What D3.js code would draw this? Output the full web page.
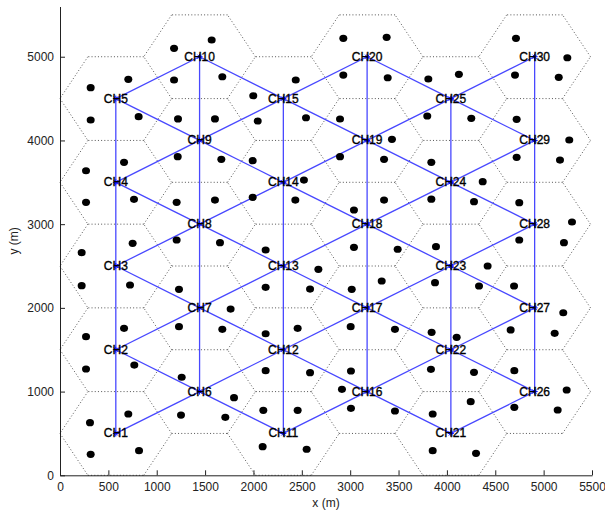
<!DOCTYPE html>
<html>
<head>
<meta charset="utf-8">
<script src="https://cdn.jsdelivr.net/npm/d3@7"></script>
<style>
  html, body { margin: 0; padding: 0; background: #fff; }
  svg { display: block; font-family: "Liberation Sans", Arial, Helvetica, sans-serif; }
</style>
</head>
<body>
<svg id="chart" width="605" height="514"></svg>
<script>
// Cluster heads (CH1..CH30), one per hexagonal cell
const chX = [
  577, 577, 577, 577, 577,
  1443, 1443, 1443, 1443, 1443,
  2309, 2309, 2309, 2309, 2309,
  3175, 3175, 3175, 3175, 3175,
  4041, 4041, 4041, 4041, 4041,
  4907, 4907, 4907, 4907, 4907
];
const chY = [
  500, 1500, 2500, 3500, 4500,
  1000, 2000, 3000, 4000, 5000,
  500, 1500, 2500, 3500, 4500,
  1000, 2000, 3000, 4000, 5000,
  500, 1500, 2500, 3500, 4500,
  1000, 2000, 3000, 4000, 5000
];
const chNames = chX.map((_, i) => "CH" + (i + 1));

// Sensor nodes
const nodeX = [
  1568, 1179, 317, 706, 1179, 1678, 2437, 1998, 317, 813,
  1220, 1602, 2044, 662, 269, 1217, 1668, 1992, 269, 765,
  1206, 1602, 1992, 2433, 751, 1206, 1654, 2126, 224, 224,
  724, 1230, 2126, 1764, 662, 1230, 1678, 2126, 2457, 269,
  269, 768, 1258, 2126, 1799, 706, 1251, 1709, 2102, 2457,
  310, 317, 817, 2095, 2929, 3377, 4714, 5245, 2929, 3388,
  3808, 4124, 4704, 5156, 2543, 2895, 3797, 4252, 4721, 3432,
  5265, 2895, 3350, 3839, 4721, 5169, 2522, 4370, 3350, 3839,
  4280, 4748, 3039, 5293, 3039, 3491, 3887, 4748, 5210, 2671,
  4421, 3326, 3877, 4332, 4694, 2585, 3016, 5203, 3005, 3463,
  3842, 4101, 4659, 5114, 2585, 3008, 3835, 4280, 4697, 2915,
  5238, 4246, 4697, 5145, 3008, 3463, 3853, 2550, 3853, 4301
];
const nodeY = [
  5200, 5100, 4630, 4730, 4722, 4761, 4722, 4534, 4244, 4284,
  4257, 4257, 4232, 3739, 3638, 3806, 3774, 3758, 3261, 3297,
  3261, 3288, 3321, 3288, 2771, 2811, 2779, 2691, 2659, 2265,
  2273, 2222, 2246, 1986, 1756, 1775, 1744, 1691, 1756, 1656,
  1270, 1317, 1171, 1250, 927, 732, 720, 693, 776, 776,
  629, 251, 294, 342, 5220, 5232, 5220, 4988, 4781, 4749,
  4734, 4790, 4781, 4754, 4271, 4256, 4292, 4264, 4252, 4013,
  4005, 3806, 3774, 3739, 3798, 3766, 3527, 3507, 3288, 3299,
  3268, 3257, 3169, 3026, 2723, 2700, 2731, 2811, 2779, 2460,
  2500, 2321, 2301, 2261, 2261, 2225, 2222, 1942, 1775, 1744,
  1708, 1648, 1736, 1696, 1226, 1246, 1266, 1230, 1250, 1027,
  1019, 879, 812, 780, 800, 768, 732, 311, 294, 263
];

// Cell geometry and CH communication range
const hexSide = 577.35;
const commRange = 1000;

const xTicks = [0, 500, 1000, 1500, 2000, 2500, 3000, 3500, 4000, 4500, 5000, 5500];
const yTicks = [0, 1000, 2000, 3000, 4000, 5000];

const svg = d3.select("#chart");
const x = d3.scaleLinear().domain([0, 5500]).range([60, 592]);
const y = d3.scaleLinear().domain([0, 5600]).range([475.3, 6.5]);

// Hexagon cell boundaries (shared edges drawn once)
const hexEdges = new Map();
chX.forEach((cx, i) => {
  const cy = chY[i];
  const verts = d3.range(6).map(k => {
    const a = Math.PI / 3 * k;
    return [cx + hexSide * Math.cos(a), cy + hexSide * Math.sin(a)];
  });
  verts.forEach((v, k) => {
    const w = verts[(k + 1) % 6];
    const key = [v, w].map(p => Math.round(p[0]) + "," + Math.round(p[1])).sort().join("|");
    if (!hexEdges.has(key)) hexEdges.set(key, [v, w]);
  });
});
svg.append("g")
  .selectAll("line")
  .data([...hexEdges.values()])
  .join("line")
  .attr("x1", d => x(d[0][0])).attr("y1", d => y(d[0][1]))
  .attr("x2", d => x(d[1][0])).attr("y2", d => y(d[1][1]))
  .attr("stroke", "#555")
  .attr("stroke-width", 1)
  .attr("stroke-dasharray", "1,2.2");

// Links between cluster heads within communication range
const links = [];
for (let i = 0; i < chX.length; i++) {
  for (let j = i + 1; j < chX.length; j++) {
    const d = Math.hypot(chX[i] - chX[j], chY[i] - chY[j]);
    if (d <= commRange * 1.01) links.push([i, j]);
  }
}
svg.append("g")
  .selectAll("line")
  .data(links)
  .join("line")
  .attr("x1", d => x(chX[d[0]])).attr("y1", d => y(chY[d[0]]))
  .attr("x2", d => x(chX[d[1]])).attr("y2", d => y(chY[d[1]]))
  .attr("stroke", "#4848ff")
  .attr("stroke-width", 1.3);

// Sensor nodes
svg.append("g")
  .selectAll("ellipse")
  .data(nodeX.map((v, i) => [v, nodeY[i]]))
  .join("ellipse")
  .attr("cx", d => x(d[0]))
  .attr("cy", d => y(d[1]))
  .attr("rx", 4)
  .attr("ry", 3.6)
  .attr("fill", "#000");

// CH markers
svg.append("g")
  .selectAll("path")
  .data(chX.map((v, i) => [v, chY[i]]))
  .join("path")
  .attr("d", d => {
    const px = x(d[0]), py = y(d[1]), r = 3;
    return `M${px - r},${py}H${px + r}M${px},${py - r}V${py + r}` +
      `M${px - 2},${py - 2}L${px + 2},${py + 2}M${px - 2},${py + 2}L${px + 2},${py - 2}`;
  })
  .attr("stroke", "#0000ff")
  .attr("stroke-width", 1);

// CH labels
svg.append("g")
  .selectAll("text")
  .data(chNames)
  .join("text")
  .attr("x", (d, i) => x(chX[i]))
  .attr("y", (d, i) => y(chY[i]))
  .attr("text-anchor", "middle")
  .attr("dominant-baseline", "central")
  .attr("font-size", 12)
  .attr("fill", "#000")
  .attr("stroke", "#000")
  .attr("stroke-width", 0.35)
  .text(d => d);

// Axes
const xAxis = d3.axisBottom(x).tickValues(xTicks).tickFormat(d3.format("d"))
  .tickSizeInner(-5).tickSizeOuter(0).tickPadding(7);
const yAxis = d3.axisLeft(y).tickValues(yTicks).tickFormat(d3.format("d"))
  .tickSizeInner(-5).tickSizeOuter(0).tickPadding(6);

const gx = svg.append("g").attr("transform", `translate(0,${y(0)})`).call(xAxis);
const gy = svg.append("g").attr("transform", `translate(${x(0)},0)`).call(yAxis);
[gx, gy].forEach(g => {
  g.selectAll("path, line").attr("stroke", "#222");
  g.selectAll("text").attr("font-size", 12).attr("fill", "#222")
    .attr("font-family", "'Liberation Sans', Arial, sans-serif");
});

svg.append("text")
  .attr("x", (x(0) + x(5500)) / 2)
  .attr("y", 507)
  .attr("text-anchor", "middle")
  .attr("font-size", 12)
  .attr("fill", "#222")
  .text("x (m)");

svg.append("text")
  .attr("transform", `translate(18,${(y(0) + y(5600)) / 2}) rotate(-90)`)
  .attr("text-anchor", "middle")
  .attr("font-size", 12)
  .attr("fill", "#222")
  .text("y (m)");
</script>
</body>
</html>
